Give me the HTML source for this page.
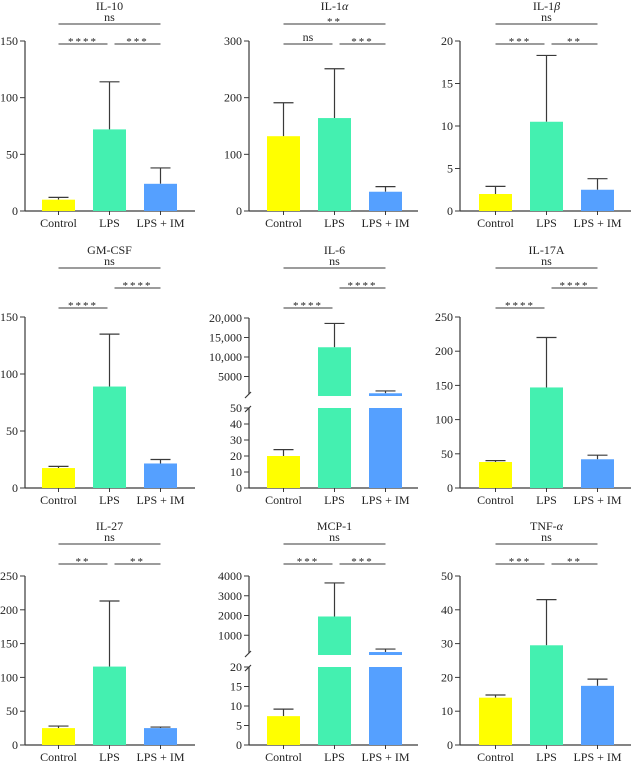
<!DOCTYPE html>
<html><head><meta charset="utf-8">
<style>
html,body{margin:0;padding:0;background:#fff;}
svg{display:block;font-family:"Liberation Serif",serif;}
</style></head>
<body>
<svg id="chart" width="632" height="762" viewBox="0 0 632 762" xmlns="http://www.w3.org/2000/svg"></svg>
<script>
const categories = ["Control", "LPS", "LPS + IM"];
const colors = ["#ffff00", "#44f0b0", "#55a0ff"];

const il10Values = [10, 72, 24];
const il10Errors = [12, 114, 38];
const il10Ticks = [0, 50, 100, 150];

const il1aValues = [132, 164, 34];
const il1aErrors = [191, 251, 43];
const il1aTicks = [0, 100, 200, 300];

const il1bValues = [2, 10.5, 2.5];
const il1bErrors = [2.9, 18.3, 3.8];
const il1bTicks = [0, 5, 10, 15, 20];

const gmcsfValues = [17.5, 89, 21.5];
const gmcsfErrors = [19, 135, 25];
const gmcsfTicks = [0, 50, 100, 150];

const il6Values = [20, 12500, 700];
const il6Errors = [24, 18600, 1300];
const il6UpperTicks = [5000, 10000, 15000, 20000];
const il6LowerTicks = [0, 10, 20, 30, 40, 50];

const il17aValues = [38, 147, 42];
const il17aErrors = [40, 220, 48];
const il17aTicks = [0, 50, 100, 150, 200, 250];

const il27Values = [25, 116, 25];
const il27Errors = [28, 213, 26.5];
const il27Ticks = [0, 50, 100, 150, 200, 250];

const mcp1Values = [7.4, 1950, 150];
const mcp1Errors = [9.2, 3650, 300];
const mcp1UpperTicks = [1000, 2000, 3000, 4000];
const mcp1LowerTicks = [0, 5, 10, 15, 20];

const tnfValues = [14, 29.5, 17.5];
const tnfErrors = [14.8, 43, 19.5];
const tnfTicks = [0, 10, 20, 30, 40, 50];

const svg = document.getElementById('chart');
const NS = "http://www.w3.org/2000/svg";
function mk(tag, attrs, parent){const e=document.createElementNS(NS,tag);for(const k in attrs)e.setAttribute(k,attrs[k]);(parent||svg).appendChild(e);return e;}

const colAxis = [25, 249, 460];
const colBarStart = [42, 267, 479];
const colAxisEnd = [195, 418, 631];
const rows = [
  {y0:211, y1:41, top:24, subL:44, subR:44},
  {y0:488, y1:317, top:268, subL:308, subR:288},
  {y0:745, y1:576, top:544, subL:564, subR:564}
];
const BW = 33, STEP = 51;

const panels = [
  {id:"il-10", title:["IL-10"], row:0,col:0, values:il10Values, errors:il10Errors, ticks:il10Ticks, sig:["ns","****","***"]},
  {id:"il-1a", title:["IL-1","α"], row:0,col:1, values:il1aValues, errors:il1aErrors, ticks:il1aTicks, sig:["**","ns","***"]},
  {id:"il-1b", title:["IL-1","β"], row:0,col:2, values:il1bValues, errors:il1bErrors, ticks:il1bTicks, sig:["ns","***","**"]},
  {id:"gm-csf", title:["GM-CSF"], row:1,col:0, values:gmcsfValues, errors:gmcsfErrors, ticks:gmcsfTicks, sig:["ns","****","****"]},
  {id:"il-6", title:["IL-6"], row:1,col:1, values:il6Values, errors:il6Errors, broken:{upper:il6UpperTicks, lower:il6LowerTicks, uTop:318, uBot:396, lTop:408}, sig:["ns","****","****"]},
  {id:"il-17a", title:["IL-17A"], row:1,col:2, values:il17aValues, errors:il17aErrors, ticks:il17aTicks, sig:["ns","****","****"]},
  {id:"il-27", title:["IL-27"], row:2,col:0, values:il27Values, errors:il27Errors, ticks:il27Ticks, sig:["ns","**","**"]},
  {id:"mcp-1", title:["MCP-1"], row:2,col:1, values:mcp1Values, errors:mcp1Errors, broken:{upper:mcp1UpperTicks, lower:mcp1LowerTicks, uTop:576, uBot:655, lTop:667}, sig:["ns","***","***"]},
  {id:"tnf-a", title:["TNF-","α"], row:2,col:2, values:tnfValues, errors:tnfErrors, ticks:tnfTicks, sig:["ns","***","**"]}
];

const AX = "#3a3a3a";
function yTick(g, ax, y, label){
  const l=mk('line',{x1:ax-5,x2:ax,y1:y,y2:y,stroke:AX,'stroke-width':1},g);
  
  
  const t=mk('text',{x:ax-7,y:y+4,'text-anchor':'end','font-size':12,fill:'#222'},g);
  t.textContent=label;
  
  
}
function fmt(v){return v>=10000? v.toLocaleString('en-US') : String(v);}
function bar(g, x, yTop, yBot, color){
  const r=mk('rect',{x:x,y:Math.min(yTop,yBot),width:BW,height:Math.abs(yBot-yTop),fill:color},g);
  
  
}
function err(g, cx, yv, ye){
  const e=mk('path',{d:`M${cx},${yv}V${ye}M${cx-10},${ye}H${cx+10}`,stroke:AX,'stroke-width':1.2,fill:'none'},g);
  
  
}

panels.forEach(p=>{
  const R=rows[p.row], ax=colAxis[p.col], bs=colBarStart[p.col], ae=colAxisEnd[p.col];
  const g=mk('g',{});
  
  
  const cx=i=>bs+i*STEP+BW/2;
  const c0=cx(0), c2=cx(2), c1=cx(1);
  // title
  const tt=mk('text',{x:(c0+c2)/2,y:R.top-14,'text-anchor':'middle','font-size':12,fill:'#222'},g);
  
  
  tt.appendChild(document.createTextNode(p.title[0]));
  if(p.title[1]){const s=mk('tspan',{'font-style':'italic'},tt);s.textContent=p.title[1];}
  // significance
  const sigs=[[c0,c2,R.top,p.sig[0]],[c0,c1-2,R.subL,p.sig[1]],[c1+5,c2,R.subR,p.sig[2]]];
  sigs.forEach((s,k)=>{
    const l=mk('line',{x1:s[0],x2:s[1],y1:s[2],y2:s[2],stroke:AX,'stroke-width':1},g);
    
    
    const isStar=s[3].indexOf('*')>=0;
    const t=mk('text',{x:(s[0]+s[1])/2,y:isStar? s[2]+1 : s[2]-3,'text-anchor':'middle','font-size':isStar?11:12,fill:'#222','letter-spacing':isStar?2:0},g);
    t.textContent=s[3];
    
    
  });
  // x axis
  const xa=mk('line',{x1:ax,x2:ae,y1:R.y0,y2:R.y0,stroke:AX,'stroke-width':1.2},g);
  
  
  categories.forEach((c,i)=>{
    const tk=mk('line',{x1:cx(i),x2:cx(i),y1:R.y0,y2:R.y0+4,stroke:AX,'stroke-width':1},g);
    
    
    const t=mk('text',{x:cx(i),y:R.y0+16,'text-anchor':'middle','font-size':12,fill:'#222'},g);
    t.textContent=c;
    
    
  });
  if(!p.broken){
    const max=p.ticks[p.ticks.length-1];
    const y=v=>R.y0-(v/max)*(R.y0-R.y1);
    const ya=mk('line',{x1:ax,x2:ax,y1:R.y0,y2:R.y1,stroke:AX,'stroke-width':1.2},g);
    
    
    p.ticks.forEach(v=>yTick(g,ax,y(v),fmt(v)));
    p.values.forEach((v,i)=>{
      err(g,cx(i),y(v),y(p.errors[i]));
      bar(g,bs+i*STEP,y(v),R.y0,colors[i]);
    });
  } else {
    const b=p.broken;
    const uMax=b.upper[b.upper.length-1], lMax=b.lower[b.lower.length-1];
    const yu=v=>b.uBot-(v/uMax)*(b.uBot-b.uTop);
    const yl=v=>R.y0-(Math.min(v,lMax)/lMax)*(R.y0-b.lTop);
    const ya=mk('path',{d:`M${ax},${R.y0}V${b.lTop}M${ax},${b.uBot-2}V${b.uTop}`,stroke:AX,'stroke-width':1.2,fill:'none'},g);
    
    
    const br=mk('path',{d:`M${ax-4},${b.lTop+4}L${ax+2},${b.lTop-2}M${ax-4},${b.uBot+2}L${ax+2},${b.uBot-4}`,stroke:AX,'stroke-width':1.2,fill:'none'},g);
    
    
    b.upper.forEach(v=>yTick(g,ax,yu(v),fmt(v)));
    b.lower.forEach(v=>yTick(g,ax,yl(v),fmt(v)));
    p.values.forEach((v,i)=>{
      const x=bs+i*STEP;
      if(v>lMax){
        err(g,cx(i),yu(v),yu(p.errors[i]));
        bar(g,x,yu(v),b.uBot,colors[i]);
      } else {
        err(g,cx(i),yl(v),yl(p.errors[i]));
      }
      bar(g,x,yl(v),R.y0,colors[i]);
    });
  }
});
</script>
</body></html>
